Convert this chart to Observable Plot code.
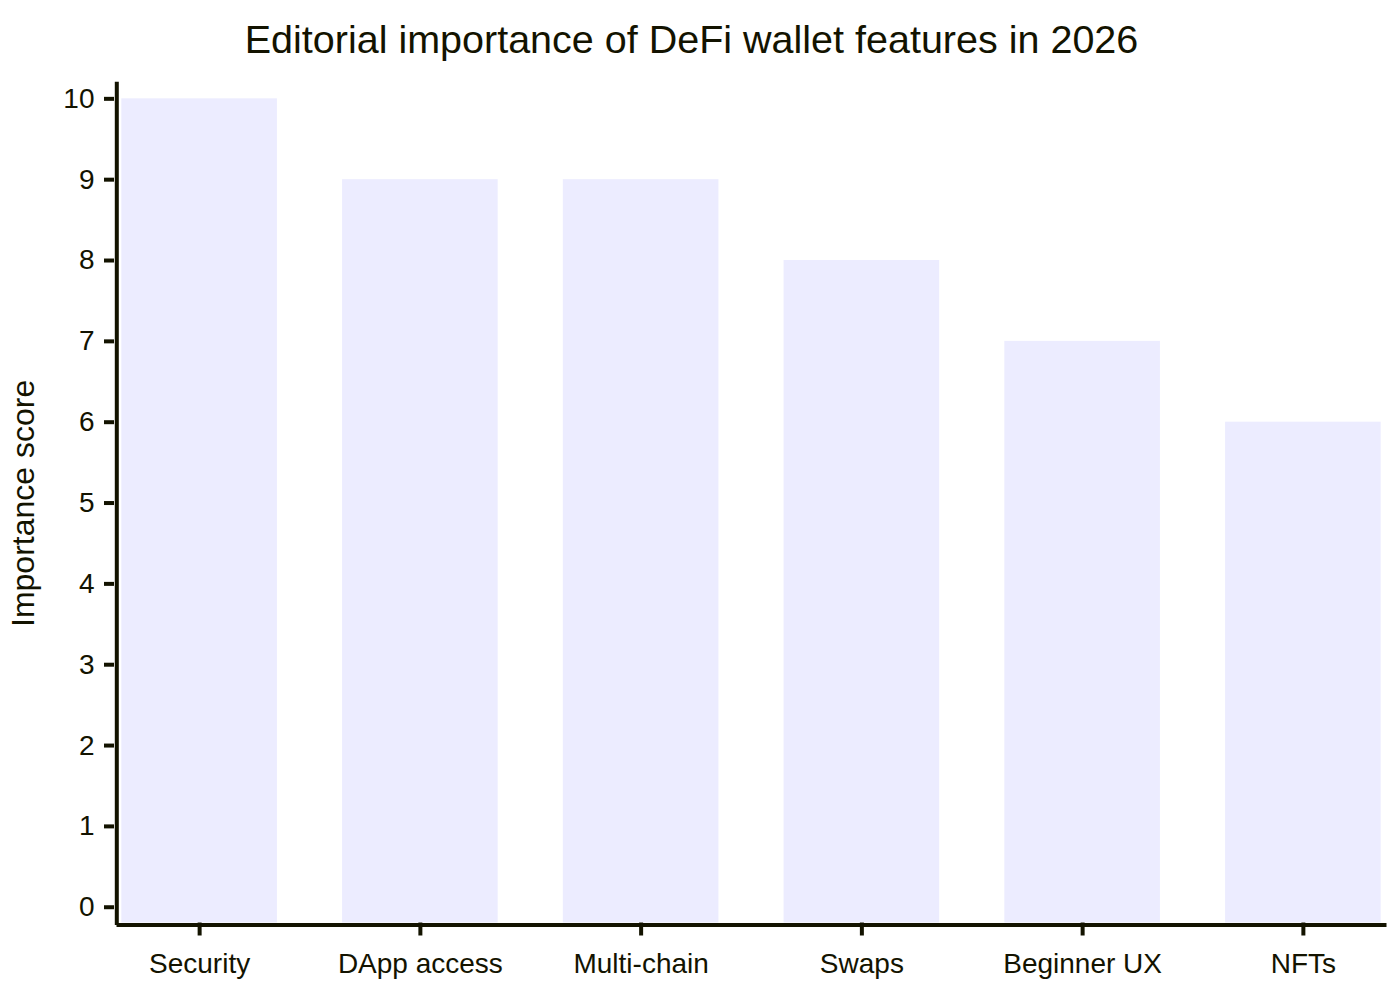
<!DOCTYPE html>
<html>
<head>
<meta charset="utf-8">
<script src="https://cdn.jsdelivr.net/npm/d3@7"></script>
<script src="https://cdn.jsdelivr.net/npm/@observablehq/plot@0.6"></script>
<style>
  html, body { margin: 0; padding: 0; background: #ffffff; }
  body { width: 1400px; height: 1000px; overflow: hidden; font-family: "Liberation Sans", Arial, sans-serif; color: #131300; }
  #title { width: 1383px; height: 70px; box-sizing: border-box; padding-top: 16px; text-align: center; font-size: 39.5px; line-height: 46px; color: #131300; }
  #chart svg { display: block; }
</style>
</head>
<body>
<div id="title">Editorial importance of DeFi wallet features in 2026</div>
<div id="chart"></div>
<script>
const categories = ["Security", "DApp access", "Multi-chain", "Swaps", "Beginner UX", "NFTs"];
const scores = [10, 9, 9, 8, 7, 6];
const yTicks = [0, 1, 2, 3, 4, 5, 6, 7, 8, 9, 10];
const yTitle = "Importance score";

const yMin = -0.195;
const yMax = 10.186;
const ink = "#131300";

const data = categories.map((feature, i) => ({feature, score: scores[i]}));

const chart = Plot.plot({
  width: 1400,
  height: 930,
  marginLeft: 118,
  marginRight: 16,
  marginTop: 13.3,
  marginBottom: 77.5,
  style: {fontFamily: '"Liberation Sans", Arial, sans-serif', fontSize: "28px", color: ink, background: "#ffffff"},
  x: {domain: categories, paddingInner: 0.295, paddingOuter: 0.015, round: false, axis: null},
  y: {domain: [yMin, yMax], axis: null},
  marks: [
    Plot.barY(data, {x: "feature", y1: yMin, y2: "score", fill: "#ECECFF"}),
    Plot.frame({anchor: "left", stroke: ink, strokeWidth: 4, dx: -1.7}),
    Plot.frame({anchor: "bottom", stroke: ink, strokeWidth: 4, dy: 2}),
    Plot.axisY({ticks: yTicks, tickSize: 10, tickPadding: 10, dx: -4, stroke: ink, strokeWidth: 4, fill: ink, fontSize: 28, tickFormat: d => String(d), label: null}),
    Plot.axisX({tickSize: 13, tickPadding: 17.5, stroke: ink, strokeWidth: 4, fill: ink, fontSize: 28, label: null}),
    Plot.text([yTitle], {text: d => d, frameAnchor: "left", textAnchor: "middle", lineAnchor: "middle", rotate: -90, dx: -95, fontSize: 32, fill: ink})
  ]
});
document.getElementById("chart").appendChild(chart);
</script>
</body>
</html>
